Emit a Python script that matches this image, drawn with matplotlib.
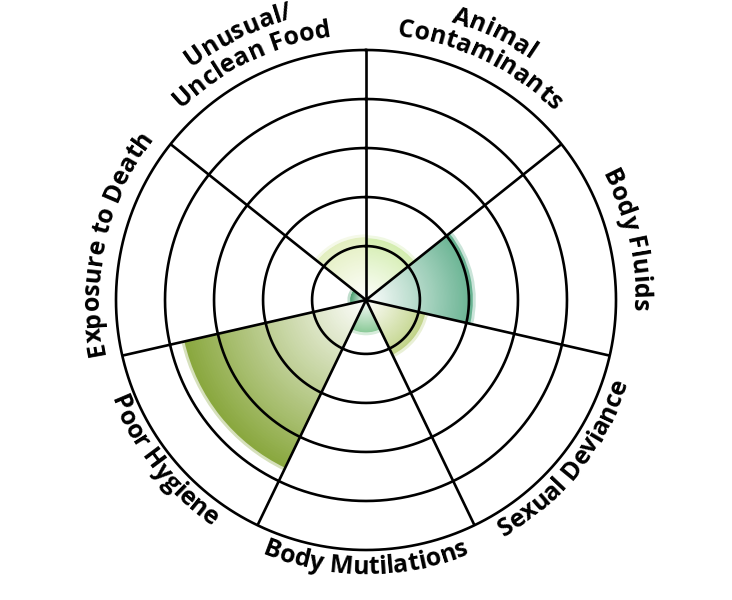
import numpy as np
import matplotlib
matplotlib.use("Agg")
import matplotlib.pyplot as plt
from matplotlib.colors import to_rgb
from matplotlib.font_manager import FontProperties
from matplotlib.textpath import TextToPath

# data (clockwise from 12 o'clock)
categories = ["Animal\nContaminants", "Body Fluids", "Sexual Deviance", "Body Mutilations",
              "Poor Hygiene", "Exposure to Death", "Unusual/\nUnclean Food"]
values = [1.16, 2.08, 1.14, 0.56, 3.7, 0.22, 1.18]
colors = ["#d4edb0", "#68b392", "#c2d48a", "#8dcb9a", "#8aa83f", "#4ea272", "#e3efc0"]
rings = [1, 2, 3, 4, 5]

DPI = 100
R_MIN, R_MAX = -0.1, 5
AX_PX = 500  # diameter of the polar axes in pixels

fp = FontProperties(family="Open Sans", weight="bold", size=18)
ttp = TextToPath()


def px_to_r(px):
    return R_MIN + px / (AX_PX / 2) * (R_MAX - R_MIN)


def adv(s):
    """Approximate advance width of s in pixels."""
    if not s:
        return 0.0
    w1 = ttp.get_text_width_height_descent(s + "I", fp, ismath=False)[0]
    w0 = ttp.get_text_width_height_descent("I", fp, ismath=False)[0]
    return (w1 - w0) * DPI / 72


def curved_text(ax, s, theta_mid, base_px, flip):
    total = adv(s)
    r = px_to_r(base_px)
    for i, ch in enumerate(s):
        if ch == " ":
            continue
        c = 0.5 * (adv(s[:i]) + adv(s[:i + 1]))
        d = (c - total / 2) / base_px
        if flip:
            th = theta_mid - d
            rot = 180 - np.degrees(th)
        else:
            th = theta_mid + d
            rot = -np.degrees(th)
        ax.text(th, r, ch, rotation=rot, rotation_mode="anchor", ha="center",
                va="baseline", fontproperties=fp, color="black", clip_on=False)


fig = plt.figure(figsize=(7.32, 6.0), dpi=DPI)
ax = fig.add_axes([(366 - 250) / 732, (300 - 250) / 600, 500 / 732, 500 / 600],
                  projection="polar")
ax.set_theta_zero_location("N")
ax.set_theta_direction(-1)
ax.set_ylim(R_MIN, R_MAX)
ax.set_xticks([])
ax.set_yticks([])
ax.grid(False)
ax.spines["polar"].set_visible(False)

n = len(categories)
width = 2 * np.pi / n
white = np.array([1.0, 1.0, 1.0])
steps = 80
for i, (val, col) in enumerate(zip(values, colors)):
    th = (i + 0.5) * width
    edge = np.array(to_rgb(col))
    # soft rim
    ax.bar(th, val - R_MIN + 0.06, width=width, bottom=R_MIN, color=col,
           alpha=0.35, linewidth=0, zorder=1)
    for k in range(steps, 0, -1):
        t = k / steps
        ax.bar(th, (val - R_MIN) * t, width=width, bottom=R_MIN,
               color=white * (1 - t) + edge * t, linewidth=0, zorder=2)

# rings and spokes
tt = np.linspace(0, 2 * np.pi, 721)
for rv in rings:
    ax.plot(tt, np.full_like(tt, rv), color="black", lw=1.9, zorder=5, clip_on=False)
for i in range(n):
    ax.plot([i * width, i * width], [R_MIN, R_MAX], color="black", lw=1.9,
            zorder=5, solid_capstyle="butt", clip_on=False)

# curved labels
flip_set = {"Sexual Deviance", "Body Mutilations", "Poor Hygiene"}
for i, lab in enumerate(categories):
    th = (i + 0.5) * width
    lines = lab.split("\n")
    if lab in flip_set:
        curved_text(ax, lab, th, 274, True)
    elif len(lines) == 2:
        curved_text(ax, lines[0], th, 291, False)
        curved_text(ax, lines[1], th, 266, False)
    else:
        curved_text(ax, lab, th, 267, False)

fig.savefig("out.png", dpi=DPI, facecolor="white")
